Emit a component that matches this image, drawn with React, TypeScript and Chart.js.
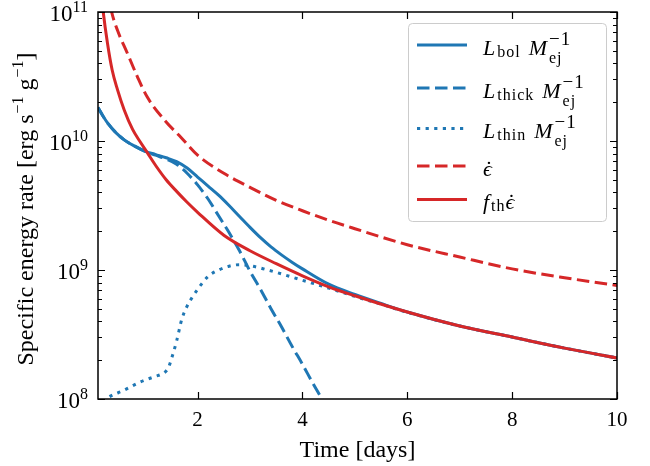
import React, { useEffect, useRef } from "react";
import { Chart, registerables } from "chart.js";

Chart.register(...registerables);

// ---- data (time in days, specific energy rate in erg s^-1 g^-1) ----
const tBol = [0.1, 0.2, 0.3, 0.45, 0.6, 0.8, 1.0, 1.2, 1.4, 1.6, 1.8, 2.0, 2.2, 2.4, 2.6, 2.8, 3.0, 3.2, 3.4, 3.6, 3.8, 4.0, 4.5, 5.0, 5.5, 6, 7, 8, 9, 10];
const lBol = [1.82e10, 1.55e10, 1.35e10, 1.15e10, 1.02e10, 9.12e9, 8.32e9, 7.85e9, 7.41e9, 6.92e9, 6.17e9, 5.25e9, 4.47e9, 3.8e9, 3.16e9, 2.6e9, 2.14e9, 1.78e9, 1.51e9, 1.31e9, 1.15e9, 1.02e9, 7.76e8, 6.46e8, 5.5e8, 4.72e8, 3.68e8, 3.02e8, 2.48e8, 2.08e8];

const tThick = [0.1, 0.2, 0.3, 0.45, 0.6, 0.8, 1.0, 1.2, 1.4, 1.6, 1.8, 2.0, 2.2, 2.4, 2.6, 2.8, 3.0, 3.2, 3.4, 3.6, 3.8, 4.0, 4.2, 4.4, 4.6];
const lThick = [1.82e10, 1.55e10, 1.35e10, 1.15e10, 1.02e10, 9.12e9, 8.32e9, 7.76e9, 7.24e9, 6.61e9, 5.62e9, 4.57e9, 3.55e9, 2.63e9, 1.95e9, 1.41e9, 9.77e8, 7.08e8, 5.01e8, 3.63e8, 2.57e8, 1.86e8, 1.32e8, 9.55e7, 6.76e7];

const tThin = [0.1, 0.26, 0.6, 0.9, 1.2, 1.3, 1.4, 1.45, 1.5, 1.6, 1.7, 1.8, 1.9, 2.0, 2.2, 2.4, 2.6, 2.8, 3.0, 3.3, 3.6, 4.0, 4.5, 5.0, 5.5, 6, 7, 8, 9, 10];
const lThin = [8.32e7, 1.0e8, 1.17e8, 1.35e8, 1.5e8, 1.55e8, 1.65e8, 1.78e8, 2.04e8, 2.82e8, 4.17e8, 5.25e8, 6.17e8, 7.08e8, 8.91e8, 1.0e9, 1.07e9, 1.1e9, 1.08e9, 1.01e9, 9.33e8, 8.32e8, 7.24e8, 6.24e8, 5.43e8, 4.7e8, 3.68e8, 3.02e8, 2.48e8, 2.08e8];

const tEps = [0.1, 0.2, 0.36, 0.47, 0.66, 0.85, 1.04, 1.37, 1.68, 2.0, 2.5, 3.0, 3.5, 4.0, 4.5, 5, 6, 7, 8, 9, 10];
const epsDot = [5.25e11, 2.14e11, 1.0e11, 7.24e10, 4.79e10, 3.16e10, 2.19e10, 1.45e10, 1.07e10, 7.76e9, 5.62e9, 4.37e9, 3.47e9, 2.88e9, 2.43e9, 2.09e9, 1.57e9, 1.26e9, 1.02e9, 8.71e8, 7.59e8];

const tFth = [0.1, 0.15, 0.2, 0.28, 0.37, 0.47, 0.6, 0.76, 0.91, 1.04, 1.2, 1.4, 1.6, 1.8, 2.0, 2.5, 3.0, 3.5, 4.0, 4.5, 5, 6, 7, 8, 9, 10];
const fthEps = [2.82e11, 1.58e11, 1.0e11, 5.75e10, 3.55e10, 2.51e10, 1.74e10, 1.23e10, 9.77e9, 8.13e9, 6.46e9, 5.01e9, 4.07e9, 3.35e9, 2.8e9, 1.86e9, 1.41e9, 1.12e9, 9.02e8, 7.41e8, 6.31e8, 4.72e8, 3.68e8, 3.02e8, 2.48e8, 2.08e8];

const xTicks = [2, 4, 6, 8, 10];
const xTickLabels = ["2", "4", "6", "8", "10"];
const yMajor = [1e8, 1e9, 1e10, 1e11];
const yExponents = ["8", "9", "10", "11"];
const xMin = 0.1;
const xMax = 10;
const yMin = 1e8;
const yMax = 1e11;

const BLUE = "#1f77b4";
const RED = "#d62728";
const LW = 3;
const DASH = [12.5, 5.5];
const DOT = [3.2, 5.4];
const SERIF = '"Liberation Serif", "Times New Roman", "DejaVu Serif", serif';

type Part =
  | { kind: "it"; text: string }
  | { kind: "sub"; text: string }
  | { kind: "subsup"; sub: string; sup: string }
  | { kind: "gap"; w: number }
  | { kind: "epsdot" };

const legendEntries: { color: string; dash: number[]; parts: Part[] }[] = [
  { color: BLUE, dash: [], parts: [{ kind: "it", text: "L" }, { kind: "sub", text: "bol" }, { kind: "gap", w: 8 }, { kind: "it", text: "M" }, { kind: "subsup", sub: "ej", sup: "−1" }] },
  { color: BLUE, dash: DASH, parts: [{ kind: "it", text: "L" }, { kind: "sub", text: "thick" }, { kind: "gap", w: 8 }, { kind: "it", text: "M" }, { kind: "subsup", sub: "ej", sup: "−1" }] },
  { color: BLUE, dash: DOT, parts: [{ kind: "it", text: "L" }, { kind: "sub", text: "thin" }, { kind: "gap", w: 8 }, { kind: "it", text: "M" }, { kind: "subsup", sub: "ej", sup: "−1" }] },
  { color: RED, dash: DASH, parts: [{ kind: "epsdot" }] },
  { color: RED, dash: [], parts: [{ kind: "it", text: "f" }, { kind: "sub", text: "th" }, { kind: "epsdot" }] },
];
const legendLineY = [45, 88, 128.5, 166, 199.5];

function setLS(ctx: any, v: string) {
  if ("letterSpacing" in ctx) ctx.letterSpacing = v;
}

function drawParts(ctx: CanvasRenderingContext2D, parts: Part[], x0: number, base: number) {
  let x = x0;
  for (const p of parts) {
    if (p.kind === "it") {
      setLS(ctx, "0px");
      ctx.font = `italic 22px ${SERIF}`;
      ctx.fillText(p.text, x, base);
      x += ctx.measureText(p.text).width + 1;
    } else if (p.kind === "sub") {
      setLS(ctx, "1px");
      ctx.font = `16px ${SERIF}`;
      ctx.fillText(p.text, x + 1, base + 2);
      x += ctx.measureText(p.text).width + 1;
    } else if (p.kind === "subsup") {
      setLS(ctx, "1px");
      ctx.font = `16px ${SERIF}`;
      const ws = ctx.measureText(p.sub).width;
      ctx.fillText(p.sub, x + 1, base + 8);
      setLS(ctx, "1px");
      ctx.font = `19px ${SERIF}`;
      const wp = ctx.measureText(p.sup).width;
      ctx.fillText(p.sup, x + 1, base - 10);
      x += Math.max(ws, wp) + 1;
    } else if (p.kind === "gap") {
      x += p.w;
    } else if (p.kind === "epsdot") {
      setLS(ctx, "0px");
      ctx.font = `italic 22px ${SERIF}`;
      const w = ctx.measureText("ϵ").width;
      ctx.fillText("ϵ", x, base);
      ctx.font = `22px ${SERIF}`;
      const wd = ctx.measureText("˙").width;
      ctx.fillText("˙", x + (w - wd) / 2 + 1.5, base);
      x += w;
    }
  }
  setLS(ctx, "0px");
  return x;
}

const decorPlugin = {
  id: "decor",
  afterDraw(chart: any) {
    const ctx: CanvasRenderingContext2D = chart.ctx;
    const { left, right, top, bottom } = chart.chartArea;
    const xs = chart.scales.x;
    const ys = chart.scales.y;
    ctx.save();
    ctx.fillStyle = "#000";
    ctx.strokeStyle = "#000";
    ctx.lineWidth = 1.2;
    ctx.setLineDash([]);
    // ticks (inward, all four sides)
    ctx.beginPath();
    for (const v of xTicks) {
      const px = Math.round(xs.getPixelForValue(v)) + 0.5;
      ctx.moveTo(px, bottom);
      ctx.lineTo(px, bottom - 7);
      ctx.moveTo(px, top);
      ctx.lineTo(px, top + 7);
    }
    for (let e = 8; e <= 11; e++) {
      for (let k = 1; k <= 9; k++) {
        const v = k * Math.pow(10, e);
        if (v < yMin || v > yMax) continue;
        const py = Math.round(ys.getPixelForValue(v)) + 0.5;
        const len = k === 1 ? 7 : 4;
        ctx.moveTo(left, py);
        ctx.lineTo(left + len, py);
        ctx.moveTo(right, py);
        ctx.lineTo(right - len, py);
      }
    }
    ctx.stroke();
    // frame
    ctx.lineWidth = 1.5;
    ctx.strokeRect(left, top, right - left, bottom - top);

    // x tick labels
    ctx.textBaseline = "alphabetic";
    ctx.textAlign = "center";
    ctx.font = `21px ${SERIF}`;
    xTicks.forEach((v, i) => {
      ctx.fillText(xTickLabels[i], xs.getPixelForValue(v), 426);
    });
    // y tick labels (10 with superscript exponent)
    ctx.textAlign = "left";
    yMajor.forEach((v, i) => {
      const py = ys.getPixelForValue(v);
      ctx.font = `16px ${SERIF}`;
      const we = ctx.measureText(yExponents[i]).width;
      ctx.font = `23px ${SERIF}`;
      const wb = ctx.measureText("10").width;
      const xr = 88;
      ctx.fillText("10", xr - we - wb, py + 8.5);
      ctx.font = `16px ${SERIF}`;
      ctx.fillText(yExponents[i], xr - we, py);
    });
    // x title
    ctx.textAlign = "center";
    ctx.font = `24px ${SERIF}`;
    ctx.fillText("Time [days]", (left + right) / 2, 457);
    // y title
    ctx.save();
    ctx.translate(33, 209);
    ctx.rotate(-Math.PI / 2);
    ctx.textAlign = "left";
    const segs: { t: string; sup: boolean }[] = [
      { t: "Specific energy rate [erg s", sup: false },
      { t: "−1", sup: true },
      { t: " g", sup: false },
      { t: "−1", sup: true },
      { t: "]", sup: false },
    ];
    let total = 0;
    for (const s of segs) {
      ctx.font = s.sup ? `16px ${SERIF}` : `24px ${SERIF}`;
      total += ctx.measureText(s.t).width + (s.sup ? 1 : 0);
    }
    let cx = -total / 2;
    for (const s of segs) {
      ctx.font = s.sup ? `16px ${SERIF}` : `24px ${SERIF}`;
      ctx.fillText(s.t, cx + (s.sup ? 1 : 0), s.sup ? -10 : 0);
      cx += ctx.measureText(s.t).width + (s.sup ? 1 : 0);
    }
    ctx.restore();

    // legend
    const lx = 408.5, ly = 23.5, lw = 198, lh = 198, r = 4;
    ctx.beginPath();
    ctx.moveTo(lx + r, ly);
    ctx.lineTo(lx + lw - r, ly);
    ctx.arcTo(lx + lw, ly, lx + lw, ly + r, r);
    ctx.lineTo(lx + lw, ly + lh - r);
    ctx.arcTo(lx + lw, ly + lh, lx + lw - r, ly + lh, r);
    ctx.lineTo(lx + r, ly + lh);
    ctx.arcTo(lx, ly + lh, lx, ly + lh - r, r);
    ctx.lineTo(lx, ly + r);
    ctx.arcTo(lx, ly, lx + r, ly, r);
    ctx.closePath();
    ctx.fillStyle = "rgba(255,255,255,0.8)";
    ctx.fill();
    ctx.strokeStyle = "#cccccc";
    ctx.lineWidth = 1;
    ctx.stroke();

    legendEntries.forEach((en, i) => {
      const y = legendLineY[i];
      ctx.beginPath();
      ctx.strokeStyle = en.color;
      ctx.lineWidth = LW;
      ctx.setLineDash(en.dash);
      ctx.lineCap = "butt";
      ctx.moveTo(417, y);
      ctx.lineTo(467, y);
      ctx.stroke();
      ctx.setLineDash([]);
      ctx.fillStyle = "#000";
      ctx.textAlign = "left";
      drawParts(ctx, en.parts, 483, y + 9.5);
    });
    ctx.restore();
  },
};

function mk(t: number[], v: number[]) {
  return t.map((x, i) => ({ x, y: v[i] }));
}

export default function App() {
  const ref = useRef<HTMLCanvasElement | null>(null);
  useEffect(() => {
    if (!ref.current) return;
    const common = { pointRadius: 0, borderWidth: LW, fill: false, cubicInterpolationMode: "monotone" as const, clip: 0 };
    const chart = new Chart(ref.current, {
      type: "line",
      data: {
        datasets: [
          { ...common, label: "Lbol", data: mk(tBol, lBol), borderColor: BLUE, order: 5 },
          { ...common, label: "Lthick", data: mk(tThick, lThick), borderColor: BLUE, borderDash: DASH, order: 4 },
          { ...common, label: "Lthin", data: mk(tThin, lThin), borderColor: BLUE, borderDash: DOT, order: 3 },
          { ...common, label: "eps", data: mk(tEps, epsDot), borderColor: RED, borderDash: DASH, order: 2 },
          { ...common, label: "fth eps", data: mk(tFth, fthEps), borderColor: RED, order: 1 },
        ] as any,
      },
      options: {
        responsive: false,
        animation: false,
        events: [],
        layout: { padding: { top: 12, right: 33, left: 0, bottom: 0 } },
        plugins: { legend: { display: false }, tooltip: { enabled: false }, title: { display: false } },
        scales: {
          x: {
            type: "linear",
            min: xMin,
            max: xMax,
            grid: { display: false },
            border: { display: false },
            ticks: { display: false },
            afterFit: (s: any) => { s.height = 67; },
          },
          y: {
            type: "logarithmic",
            min: yMin,
            max: yMax,
            grid: { display: false },
            border: { display: false },
            ticks: { display: false },
            afterFit: (s: any) => { s.width = 98; },
          },
        },
      } as any,
      plugins: [decorPlugin],
    });
    return () => chart.destroy();
  }, []);
  return (
    <canvas
      ref={ref}
      width={650}
      height={466}
      style={{ position: "fixed", left: 0, top: 0, width: 650, height: 466, background: "#fff" }}
    />
  );
}
